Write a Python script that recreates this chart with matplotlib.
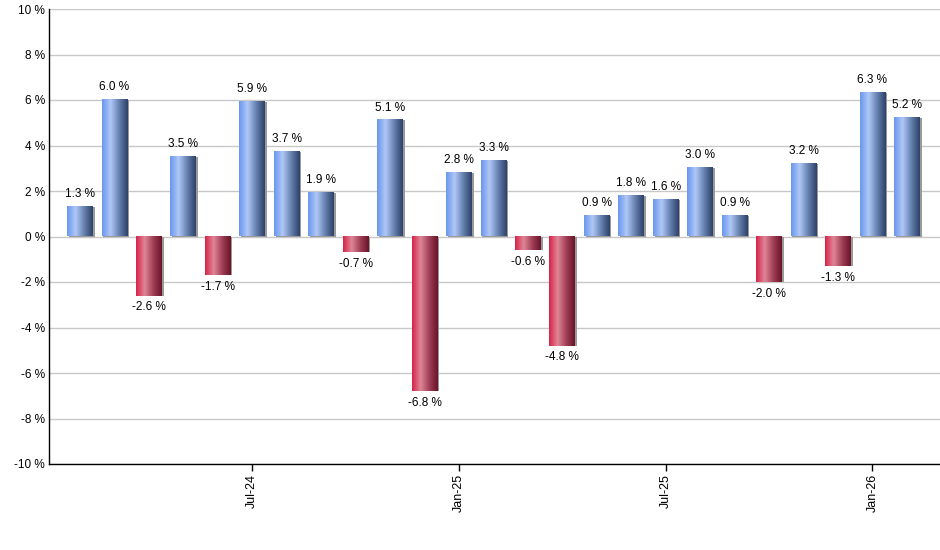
import matplotlib
matplotlib.use("Agg")
import matplotlib.pyplot as plt
from matplotlib.colors import LinearSegmentedColormap
import numpy as np

months = ["Feb-24", "Mar-24", "Apr-24", "May-24", "Jun-24", "Jul-24", "Aug-24",
          "Sep-24", "Oct-24", "Nov-24", "Dec-24", "Jan-25", "Feb-25", "Mar-25",
          "Apr-25", "May-25", "Jun-25", "Jul-25", "Aug-25", "Sep-25", "Oct-25",
          "Nov-25", "Dec-25", "Jan-26", "Feb-26"]
returns = [1.3, 6.0, -2.6, 3.5, -1.7, 5.9, 3.7, 1.9, -0.7, 5.1, -6.8, 2.8, 3.3,
           -0.6, -4.8, 0.9, 1.8, 1.6, 3.0, 0.9, -2.0, 3.2, -1.3, 6.3, 5.2]
tick_months = ["Jul-24", "Jan-25", "Jul-25", "Jan-26"]

plt.rcParams['font.family'] = ['Liberation Sans', 'DejaVu Sans']

blue = LinearSegmentedColormap.from_list(
    "blue", [(0, "#6b97ec"), (0.33, "#afc8f7"), (0.7, "#5f7aa8"), (1, "#2e4269")])
red = LinearSegmentedColormap.from_list(
    "red", [(0, "#d6244a"), (0.33, "#e08596"), (0.7, "#9a3a52"), (1, "#6a1529")])

fig = plt.figure(figsize=(9.4, 5.5), dpi=100)
ax = fig.add_axes([49 / 940, 1 - 464 / 550, 891 / 940, 455 / 550])

x = np.arange(len(months))
width = 0.75
grad = np.linspace(0, 1, 64).reshape(1, -1)

# grey shadow slightly to the right
ax.bar(x + 0.05, returns, width=width, color="#9a9a9a", zorder=2)
bars = ax.bar(x, returns, width=width, color="none", zorder=3)

for b, v in zip(bars, returns):
    x0 = b.get_x()
    x1 = x0 + b.get_width()
    cmap = blue if v >= 0 else red
    ax.imshow(grad, extent=[x0, x1, 0, v] if v >= 0 else [x0, x1, v, 0],
              aspect="auto", cmap=cmap, zorder=3, interpolation="bilinear")
    lbl = "{:.1f} %".format(v)
    if v >= 0:
        ax.annotate(lbl, (x0 + b.get_width() / 2, v), xytext=(0, 5),
                    textcoords="offset points", ha="center", va="bottom",
                    fontsize=8.5)
    else:
        ax.annotate(lbl, (x0 + b.get_width() / 2, v), xytext=(0, -4),
                    textcoords="offset points", ha="center", va="top",
                    fontsize=8.5)

ax.set_xlim(-0.9, len(months) - 1 + 0.96)
ax.set_ylim(-10, 10)
ax.set_yticks(np.arange(-10, 11, 2))
ax.set_yticklabels(["{} %".format(t) for t in range(-10, 11, 2)], fontsize=8.5)
ax.tick_params(axis="y", length=0, pad=3)

ax.set_xticks([months.index(m) for m in tick_months])
ax.set_xticklabels(tick_months, rotation=90, fontsize=9)
ax.tick_params(axis="x", length=5, width=1, pad=2)

ax.grid(axis="y", color="#c8c8c8", linewidth=1, zorder=0)
ax.set_axisbelow(True)
ax.spines["top"].set_visible(False)
ax.spines["right"].set_visible(False)
for s in ["left", "bottom"]:
    ax.spines[s].set_color("black")
    ax.spines[s].set_linewidth(1)

fig.savefig("out.png", dpi=100)
